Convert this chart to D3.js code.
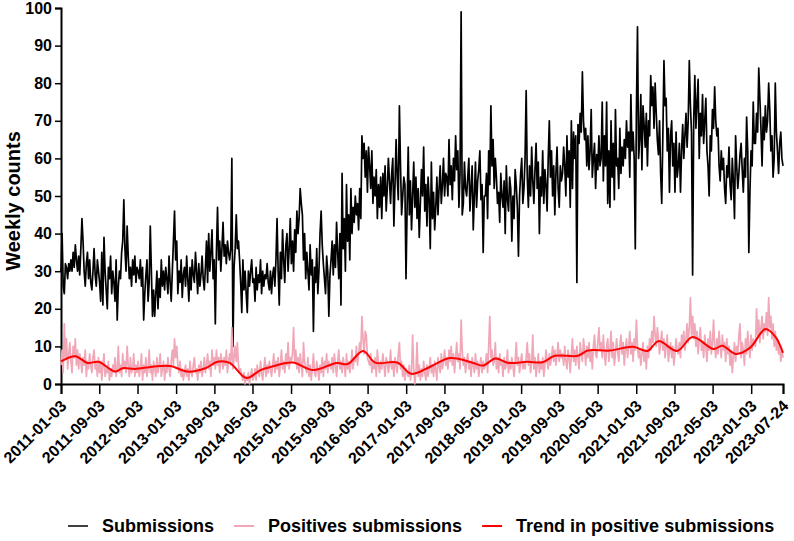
<!DOCTYPE html>
<html>
<head>
<meta charset="utf-8">
<script src="https://cdn.jsdelivr.net/npm/d3@7"></script>
<style>
    body { margin: 0; background: #fff; }
    svg { display: block; font-family: "Liberation Sans", Arial, sans-serif; font-weight: bold; }
</style>
</head>
<body>
<div id="chart"></div>
<script>
// weekly counts, one value per week starting 2011-01-03
const firstWeek = "2011-01-03";

const submissions = [
    30,40,26,24,32,31,28,32,30,33,30,35,31,37,33,30,34,29,36,44,38,30,26,32,35,28,33,27,25,30,36,29,26,33,30,
    27,22,35,21,39,30,25,20,31,28,34,24,30,27,22,33,17,26,30,28,35,38,49,36,30,42,34,28,31,26,33,29,34,27,31,
    30,28,33,26,31,17,24,29,33,22,27,42,30,18,25,18,24,30,20,28,23,33,26,30,25,31,28,24,34,27,22,30,38,46,33,
    38,24,30,27,33,23,29,31,26,34,28,22,31,25,33,29,27,35,30,24,32,26,29,34,28,25,31,38,27,40,30,35,41,28,33,
    16,35,47,33,38,30,36,43,34,37,32,38,35,33,36,60,10,31,36,45,36,38,33,27,19,33,25,30,24,19,30,26,30,33,27,
    28,22,31,25,29,27,33,24,30,26,29,28,32,27,25,30,24,29,31,26,33,44,30,21,35,28,41,33,27,37,40,30,36,44,32,
    38,30,41,35,46,40,44,52,48,45,33,40,28,35,30,25,37,29,33,14,31,27,36,24,30,40,46,37,32,28,24,34,30,18,29,
    33,38,29,37,31,43,35,28,40,21,56,36,44,30,53,38,45,33,52,40,47,43,50,45,48,41,52,44,66,60,64,55,62,51,63,
    58,52,62,48,55,50,57,44,53,47,55,44,56,50,58,46,52,60,54,48,56,60,42,53,65,55,49,74,58,45,50,55,53,28,47,
    63,45,54,41,50,59,47,55,44,52,39,48,57,50,63,46,53,42,55,49,36,59,44,51,41,47,55,45,52,58,48,53,60,50,56,
    55,50,65,53,58,49,60,54,66,57,62,47,56,99,45,48,59,52,50,55,60,46,52,58,41,50,59,47,54,57,62,49,53,35,50,
    50,56,44,62,53,74,58,65,52,60,55,48,51,43,56,50,47,54,40,58,49,46,55,52,38,50,44,57,53,47,34,50,56,60,48,
    52,60,78,55,47,58,50,63,54,48,57,64,52,59,40,55,50,62,48,57,53,46,60,70,55,62,50,58,45,56,63,52,47,58,54,
    56,63,58,50,66,55,62,47,70,52,67,60,66,27,69,64,72,67,83,70,65,68,58,66,57,62,73,55,60,64,52,61,57,66,58,
    60,75,54,66,58,75,48,62,47,70,55,64,49,73,58,60,52,68,56,63,58,65,60,70,63,67,55,77,62,67,60,36,72,95,60,
    65,77,57,74,69,63,72,58,70,66,82,74,79,68,80,72,65,61,70,56,48,66,86,74,76,62,68,51,66,70,58,64,51,67,55,
    58,64,51,62,69,60,66,72,63,70,86,74,67,29,70,82,68,75,81,60,72,66,77,64,70,76,62,58,50,66,62,73,68,79,70,
    66,68,58,54,62,57,60,52,48,58,55,63,53,49,60,54,44,66,58,52,56,61,64,57,51,60,55,71,62,35,51,62,58,75,64,
    64,72,67,84,76,68,58,71,65,74,67,70,80,73,62,66,55,60,80,67,62,56,64,67,60,58
];

const positives = [
    5,9,3,16,7,12,4,8,11,6,3,10,7,12,5,9,4,8,6,3,7,5,9,2,6,4,8,5,3,7,9,4,6,2,7,
    3,6,1,5,8,2,4,3,6,1,4,2,5,3,7,2,4,10,3,5,2,8,4,6,3,10,5,2,7,3,4,8,2,5,3,
    6,2,4,8,1,5,3,7,2,4,9,3,5,1,6,4,2,7,3,5,8,2,4,6,1,5,3,7,4,2,6,9,5,12,7,
    10,5,3,6,2,4,1,3,5,2,4,1,6,3,2,5,7,3,4,1,5,3,6,2,4,7,3,5,8,4,6,2,9,5,7,
    4,9,5,7,3,8,6,4,7,5,9,3,6,8,5,15,4,7,10,6,11,5,3,4,2,1,3,0,2,1,3,0,2,4,1,
    2,4,1,5,3,2,6,3,1,4,7,2,5,3,6,4,2,5,8,3,6,4,7,2,5,9,4,6,3,8,5,11,4,7,6,
    8,15,6,9,4,7,3,8,5,2,11,6,4,3,7,2,5,1,4,8,3,2,6,4,1,5,3,7,2,6,4,8,3,6,5,
    4,7,3,8,5,2,6,9,4,6,3,7,5,2,8,4,6,3,5,9,4,7,6,10,5,8,11,9,18,12,8,14,13,7,6,
    5,8,3,6,4,7,2,9,5,3,6,4,8,5,2,7,6,3,5,9,4,6,2,7,5,3,8,11,4,6,2,5,1,4,3,
    2,5,1,3,13,4,0,3,11,2,5,1,4,2,6,3,1,5,2,4,7,3,5,2,6,4,1,7,5,3,8,4,6,9,5,
    7,4,9,6,10,5,8,3,7,11,6,8,4,17,9,5,7,3,6,8,4,6,2,7,5,3,8,4,6,2,5,7,3,6,4,
    5,8,3,10,18,7,9,5,6,11,4,7,3,8,5,6,2,7,4,5,9,3,6,4,7,5,2,6,11,5,7,3,6,8,4,
    6,4,7,11,5,8,3,6,13,4,7,2,5,8,3,6,4,7,2,5,9,6,4,8,5,7,10,6,9,5,8,11,6,9,7,
    8,5,10,6,4,9,7,3,8,12,6,9,5,10,7,4,11,8,6,12,9,5,10,7,11,6,9,4,10,13,8,7,11,15,9,
    11,7,13,8,5,10,12,6,9,14,7,11,5,8,12,9,6,10,13,8,11,5,9,12,7,10,14,8,11,6,12,9,17,10,7,
    9,5,8,11,6,9,4,10,7,12,9,14,11,18,13,10,15,12,8,11,14,9,12,7,10,13,6,9,11,7,10,5,8,12,9,
    8,11,7,13,10,14,9,12,16,11,15,23,13,18,12,16,10,14,8,12,15,9,11,7,13,10,6,12,9,14,8,11,17,10,7,
    12,8,14,10,7,13,9,11,6,12,8,10,5,9,3,7,11,6,10,8,13,16,7,11,9,5,12,8,14,10,7,13,9,12,11,
    10,20,13,17,11,15,18,12,16,14,19,13,23,15,18,12,16,10,14,9,12,8,10,6,9,7
];

// smoothed trend, read at these week offsets
const trendWeeks = [0, 13, 24, 34, 49, 56, 67, 83, 99, 115, 131, 142, 153, 168, 181, 190, 210, 229, 250, 260, 274, 285, 305, 318, 335, 353, 374, 383, 394, 406, 423, 437, 448, 469, 478, 498, 519, 532, 542, 559, 573, 592, 600, 612, 625, 639, 648, 655];
const trendValues = [6.0, 7.4, 5.6, 5.9, 3.3, 4.2, 4.0, 4.6, 4.8, 3.3, 4.2, 5.9, 5.6, 1.6, 3.7, 4.5, 5.7, 3.7, 5.6, 5.3, 8.8, 5.7, 5.7, 2.7, 4.6, 6.9, 5.6, 4.9, 6.8, 5.6, 5.9, 5.8, 7.5, 7.5, 8.9, 8.9, 9.9, 8.8, 11.4, 8.8, 12.5, 9.3, 10.2, 8.0, 9.6, 14.6, 12.6, 8.3];

const xTickLabels = ["2011-01-03", "2011-09-03", "2012-05-03", "2013-01-03", "2013-09-03", "2014-05-03",
    "2015-01-03", "2015-09-03", "2016-05-03", "2017-01-03", "2017-09-03", "2018-05-03", "2019-01-03",
    "2019-09-03", "2020-05-03", "2021-01-03", "2021-09-03", "2022-05-03", "2023-01-03", "2023-07-24"];
const yTicks = [0, 10, 20, 30, 40, 50, 60, 70, 80, 90, 100];

const seriesNames = ["Submissions", "Positives submissions", "Trend in positive submissions"];
const seriesColors = ["#000000", "#f0a7b7", "#ff0000"];

let width = 794;
let height = 541;
let margins = {
    top: 8,
    right: 11,
    bot: 157,
    left: 61
};
let chartWidth = width - margins.left - margins.right;
let chartHeight = height - margins.top - margins.bot;

let parseDate = d3.utcParse("%Y-%m-%d");
let start = parseDate(firstWeek);
let weekDate = i => d3.utcDay.offset(start, 7 * i);

let subData = submissions.map((v, i) => ({ date: weekDate(i), value: v }));
let posData = positives.map((v, i) => ({ date: weekDate(i), value: v }));
let trendData = trendWeeks.map((w, i) => ({ date: weekDate(w), value: trendValues[i] }));

let svg = d3.select("#chart")
    .append("svg")
    .attr("width", width)
    .attr("height", height);

let g = svg.append("g")
    .attr("transform", "translate(" + margins.left + "," + margins.top + ")");

let xScale = d3.scaleUtc()
    .domain([start, weekDate(submissions.length - 1)])
    .range([0, chartWidth]);

let yScale = d3.scaleLinear()
    .domain([0, 100])
    .range([chartHeight, 0]);

// x axis
let xAxis = g.append("g")
    .attr("transform", "translate(0," + chartHeight + ")")
    .call(d3.axisBottom(xScale)
        .tickValues(xTickLabels.map(parseDate))
        .tickSize(10)
        .tickFormat(d3.utcFormat("%Y-%m-%d")));
xAxis.select(".domain").attr("stroke-width", 2);
xAxis.selectAll(".tick line").attr("stroke-width", 1.5);
xAxis.selectAll("text")
    .attr("font-size", 16)
    .attr("font-weight", "bold")
    .attr("fill", "#000")
    .attr("y", 0)
    .attr("dy", 0)
    .attr("text-anchor", "end")
    .attr("transform", "translate(6,23) rotate(-45)");

// y axis
let yAxis = g.append("g")
    .call(d3.axisLeft(yScale)
        .tickValues(yTicks)
        .tickSize(6)
        .tickPadding(3));
yAxis.select(".domain").attr("stroke-width", 2);
yAxis.selectAll(".tick line").attr("stroke-width", 1.5);
yAxis.selectAll("text")
    .attr("font-size", 16)
    .attr("font-weight", "bold")
    .attr("fill", "#000");

svg.append("text")
    .attr("transform", "translate(20," + (margins.top + chartHeight / 2 + 5) + ") rotate(-90)")
    .attr("text-anchor", "middle")
    .attr("font-size", 20)
    .text("Weekly counts");

let line = d3.line()
    .x(d => xScale(d.date))
    .y(d => yScale(d.value));

g.append("path")
    .datum(subData)
    .attr("fill", "none")
    .attr("stroke", seriesColors[0])
    .attr("stroke-width", 1.7)
    .attr("stroke-linejoin", "round")
    .attr("d", line);

g.append("path")
    .datum(posData)
    .attr("fill", "none")
    .attr("stroke", seriesColors[1])
    .attr("stroke-width", 1.7)
    .attr("stroke-linejoin", "round")
    .attr("d", line);

g.append("path")
    .datum(trendData)
    .attr("fill", "none")
    .attr("stroke", seriesColors[2])
    .attr("stroke-width", 2)
    .attr("d", d3.line()
        .curve(d3.curveCatmullRom.alpha(0.5))
        .x(d => xScale(d.date))
        .y(d => yScale(d.value)));

// legend
let legend = svg.append("g")
    .attr("transform", "translate(68,526)");
let lx = 0;
seriesNames.forEach(function (name, i) {
    let item = legend.append("g").attr("transform", "translate(" + lx + ",0)");
    item.append("line")
        .attr("x1", 0)
        .attr("x2", 20)
        .attr("stroke", seriesColors[i])
        .attr("stroke-width", i == 0 ? 1.5 : 2);
    let t = item.append("text")
        .attr("x", 34)
        .attr("dy", "0.36em")
        .attr("font-size", 18)
        .text(name);
    lx += 34 + t.node().getComputedTextLength() + 20;
});
</script>
</body>
</html>
